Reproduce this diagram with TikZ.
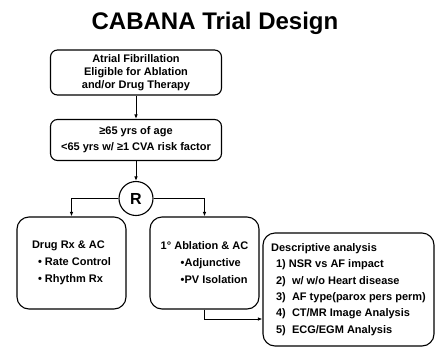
\documentclass[tikz,border=0pt]{standalone}
\usepackage{fontspec}
\setmainfont{Liberation Sans}
\usetikzlibrary{arrows.meta}
\tikzset{
  box/.style={draw,line width=1.1pt,rounded corners=7pt,minimum width=171pt,align=center,font=\bfseries\fontsize{11}{13}\selectfont},
  armbox/.style={draw,line width=1.1pt,rounded corners=12pt,minimum width=109pt,minimum height=92pt,align=left,font=\bfseries\fontsize{11}{17}\selectfont},
  arr/.style={line width=1pt,-{Latex[length=4.5pt,width=3.5pt]}},
}
\begin{document}
\begin{tikzpicture}[x=1pt,y=-1pt]
\useasboundingbox (0,0) rectangle (437,349);
\node[anchor=base,font=\bfseries\fontsize{24}{28}\selectfont] (title) at (215,29) {CABANA Trial Design};
\node[box,minimum height=45pt] (af) at (136,72.5) {Atrial Fibrillation\\Eligible for Ablation\\and/or Drug Therapy};
\node[box,minimum height=41pt,font=\bfseries\fontsize{11}{16}\selectfont] (age) at (136,140) {≥65 yrs of age\\<65 yrs w/ ≥1 CVA risk factor};
\node[draw,circle,line width=1.1pt,minimum size=34pt,inner sep=0pt,font=\bfseries\fontsize{16}{18}\selectfont] (R) at (136,198.5) {R};
\node[armbox] (drug) at (71.5,263) {Drug Rx \& AC\\\hspace*{6pt}• Rate Control\\\hspace*{6pt}• Rhythm Rx};
\node[armbox] (abl) at (204.5,263) {1° Ablation \& AC\\\hspace*{20pt}•Adjunctive\\\hspace*{20pt}•PV Isolation};
\node[draw,line width=1.1pt,rounded corners=12pt,minimum width=171pt,minimum height=113pt,align=left,font=\bfseries\fontsize{11}{16.3}\selectfont] (desc) at (348.5,289.5)
  {Descriptive analysis\\
   \hspace*{5pt}1) NSR vs AF impact\\
   \hspace*{5pt}2)\ \ w/ w/o Heart disease\\
   \hspace*{5pt}3)\ \ AF type(parox pers perm)\\
   \hspace*{5pt}4)\ \ CT/MR Image Analysis\\
   \hspace*{5pt}5)\ \ ECG/EGM Analysis};
\draw[arr] (af) -- (age);
\draw[arr] (age) -- (R);
\draw[arr] (R.west) -| (drug.north);
\draw[arr] (R.east) -| (abl.north);
\draw[arr] (abl.south) |- ([yshift=-29.5pt]desc.west);
\end{tikzpicture}
\end{document}
